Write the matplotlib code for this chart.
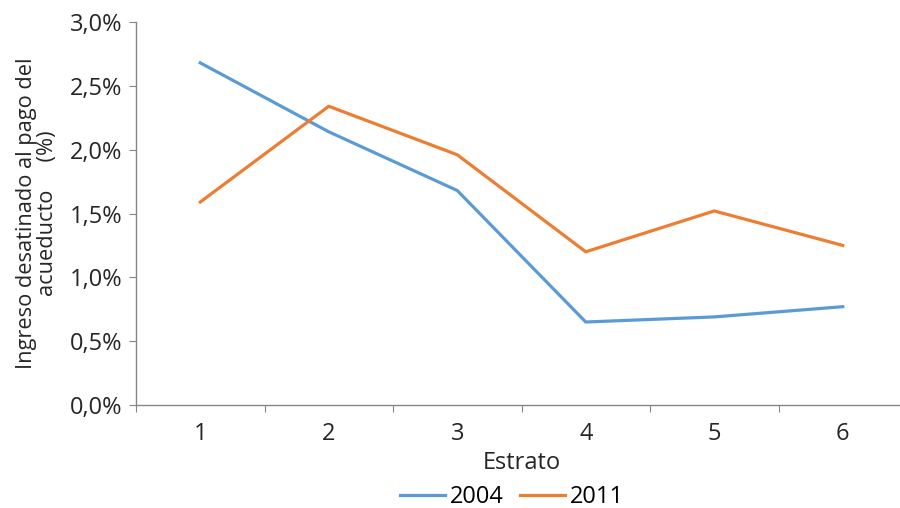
import matplotlib.pyplot as plt
from matplotlib.ticker import FuncFormatter, FixedLocator, NullFormatter

plt.rcParams['font.family'] = ['Open Sans', 'DejaVu Sans']

estratos = [1, 2, 3, 4, 5, 6]
serie_2004 = [2.68, 2.14, 1.68, 0.65, 0.69, 0.77]
serie_2011 = [1.59, 2.34, 1.96, 1.20, 1.52, 1.25]

fs = 17
fig = plt.figure(figsize=(9, 5.08), dpi=100)
ax = fig.add_axes([136 / 900, 1 - 405 / 508, 771 / 900, 383 / 508])

ax.plot(estratos, serie_2004, color='#5B9BD5', linewidth=2.3, label='2004')
ax.plot(estratos, serie_2011, color='#ED7D31', linewidth=2.3, label='2011')

ax.set_xlim(0.5, 6.5)
ax.set_ylim(0, 3.0)
ax.set_yticks([0, 0.5, 1.0, 1.5, 2.0, 2.5, 3.0])
ax.yaxis.set_major_formatter(FuncFormatter(lambda v, p: f"{v:.1f}%".replace('.', ',')))

# category ticks between the labels, labels centred on the points
ax.xaxis.set_major_locator(FixedLocator([x + 0.5 for x in range(0, 7)]))
ax.xaxis.set_major_formatter(NullFormatter())
ax.xaxis.set_minor_locator(FixedLocator(estratos))
ax.set_xticklabels([str(e) for e in estratos], minor=True)
ax.tick_params(axis='x', which='minor', length=0, pad=12, labelsize=fs, colors='#262626')
ax.tick_params(axis='x', which='major', length=5, direction='out', color='#868686')
ax.tick_params(axis='y', length=5, direction='out', color='#868686', labelsize=fs,
               labelcolor='#262626', pad=5)

for s in ['top', 'right']:
    ax.spines[s].set_visible(False)
for s in ['left', 'bottom']:
    ax.spines[s].set_color('#868686')
    ax.spines[s].set_linewidth(1.0)

ax.set_xlabel('Estrato', fontsize=fs, color='#262626', labelpad=4)
ax.set_ylabel('Ingreso desatinado al pago del\nacueducto     (%)', fontsize=15.7,
              color='#262626', labelpad=8, linespacing=1.0)

fig.legend(loc='center', bbox_to_anchor=(512 / 900, 1 - 497 / 508), ncol=2, frameon=False,
           fontsize=fs, handlelength=1.9, handletextpad=0.2, columnspacing=0.7,
           borderpad=0)

fig.savefig('out.png', dpi=100)
